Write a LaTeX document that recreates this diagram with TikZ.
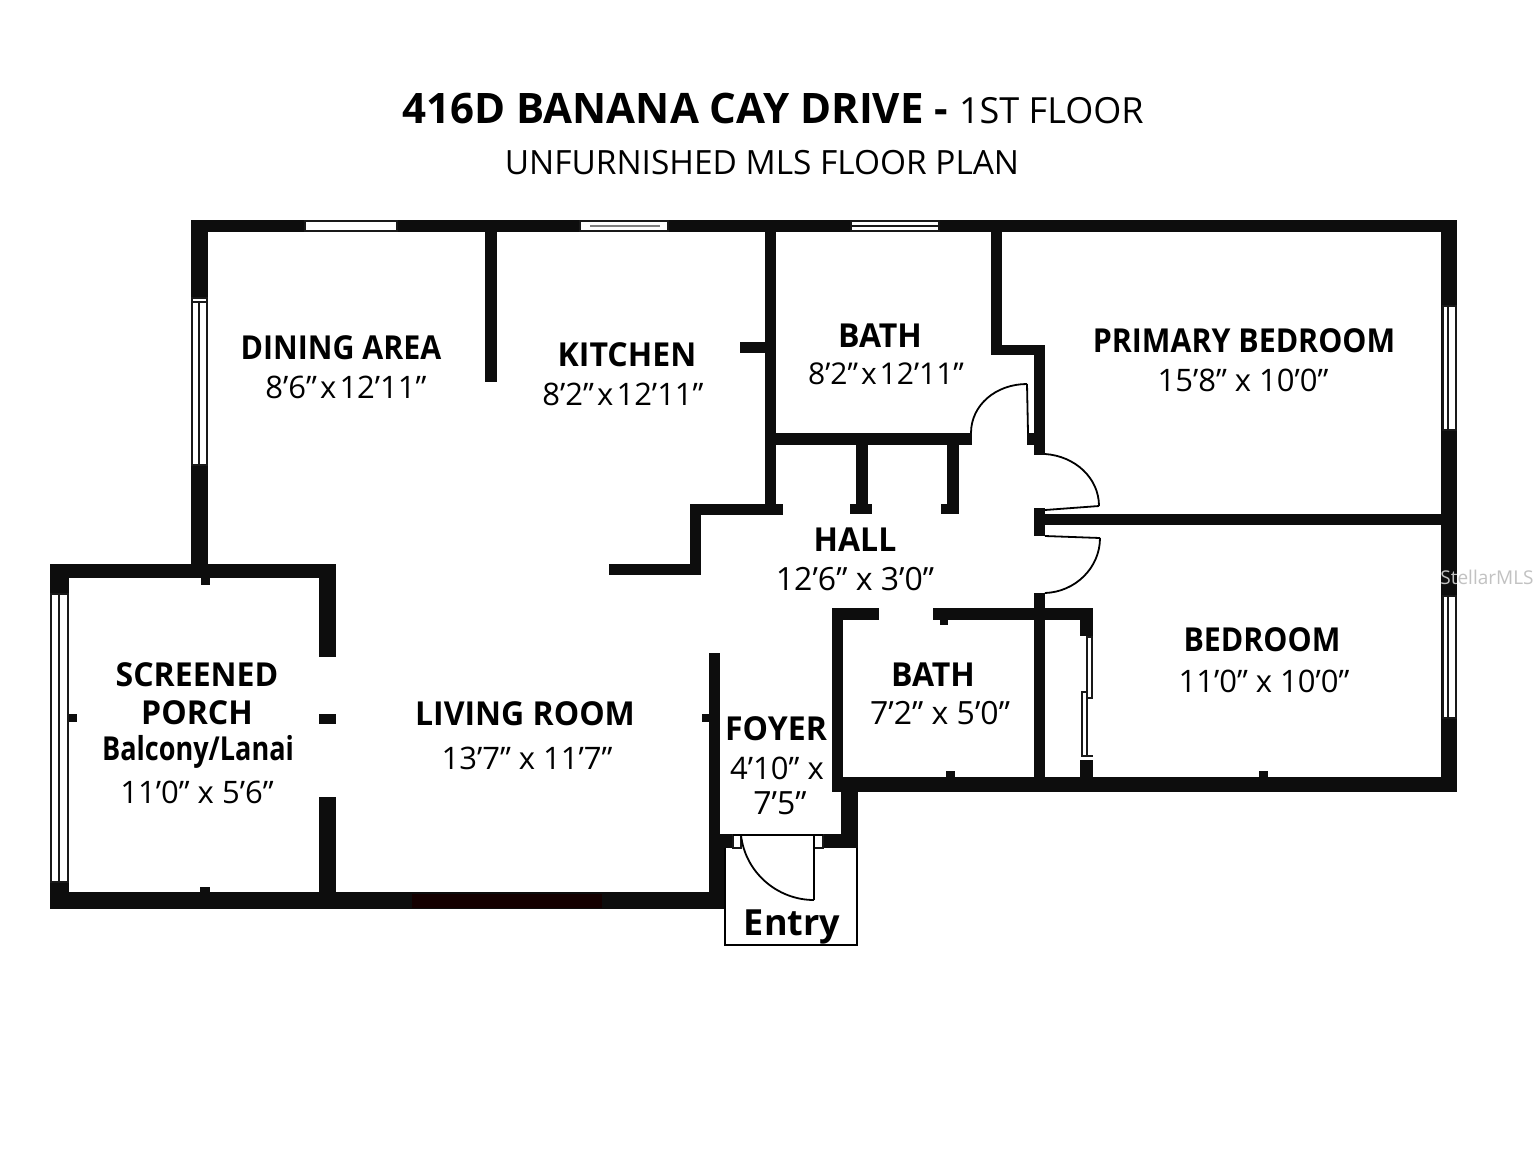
\documentclass[tikz,border=0pt]{standalone}
\usepackage{fontspec}
\setmainfont{Open Sans}
\newfontfamily\roomfont[FakeStretch=0.97]{Open Sans}
\newfontfamily\tightfont[FakeStretch=0.92]{Open Sans}
\newfontfamily\lanaifont[FakeStretch=0.82]{Open Sans}
\newcommand{\by}{\hspace{0.1em}x\hspace{0.1em}}
\tikzset{
    wall/.style={fill=black!95},
    pane/.style={fill=white, draw=black!90, line width=0.6pt},
    midline/.style={draw=black!90, line width=0.8pt},
    leaf/.style={draw=black, line width=0.9pt},
    roomname/.style={font=\fontsize{16.5}{18}\selectfont\roomfont\bfseries, inner sep=0pt},
    tightname/.style={font=\fontsize{16.5}{18}\selectfont\tightfont\bfseries, inner sep=0pt},
    roomsize/.style={font=\fontsize{15.5}{18}\selectfont, inner sep=0pt},
    widesize/.style={font=\fontsize{16}{18}\selectfont, inner sep=0pt}
}
\begin{document}
\begin{tikzpicture}[x=0.5pt, y=-0.5pt]

    \useasboundingbox (0, 0) rectangle (1536, 1152);
    \fill[white] (0, 0) rectangle (1536, 1152);

    % outer walls
    \fill[wall] (191, 220) rectangle (1457, 232);
    \fill[wall] (191, 220) rectangle (208, 570);
    \fill[wall] (1441, 220) rectangle (1457, 792);
    \fill[wall] (50, 564) rectangle (336, 578);
    \fill[wall] (50, 564) rectangle (69, 909);
    \fill[wall] (50, 892) rectangle (725, 909);
    \fill[wall] (319, 564) rectangle (336, 657);
    \fill[wall] (319, 797) rectangle (336, 892);
    \fill[wall] (832, 777) rectangle (1457, 792);

    % inner walls
    \fill[wall] (485, 232) rectangle (497, 382);
    \fill[wall] (765, 232) rectangle (776, 515);
    \fill[wall] (740, 342) rectangle (765, 353);
    \fill[wall] (991, 232) rectangle (1002, 355);
    \fill[wall] (991, 345) rectangle (1045, 355);
    \fill[wall] (1034, 345) rectangle (1045, 455);
    \fill[wall] (1027, 433) rectangle (1034, 445);
    \fill[wall] (765, 433) rectangle (972, 445);
    \fill[wall] (856, 445) rectangle (868, 504);
    \fill[wall] (850, 504) rectangle (872, 514);
    \fill[wall] (947, 445) rectangle (959, 514);
    \fill[wall] (941, 504) rectangle (947, 514);
    \fill[wall] (690, 504) rectangle (783, 515);
    \fill[wall] (690, 504) rectangle (701, 575);
    \fill[wall] (609, 564) rectangle (701, 575);
    \fill[wall] (1034, 508) rectangle (1045, 536);
    \fill[wall] (1045, 514) rectangle (1441, 525);
    \fill[wall] (1034, 593) rectangle (1045, 777);
    \fill[wall] (832, 608) rectangle (879, 620);
    \fill[wall] (933, 608) rectangle (1093, 620);
    \fill[wall] (832, 608) rectangle (843, 792);
    \fill[wall] (1080, 608) rectangle (1093, 636);
    \fill[wall] (1080, 760) rectangle (1093, 777);
    \fill[wall] (709, 653) rectangle (720, 892);
    \fill[wall] (710, 848) rectangle (725, 892);
    \fill[wall] (841, 792) rectangle (858, 848);
    \fill[wall] (709, 834) rectangle (733, 848);
    \fill[wall] (823, 834) rectangle (858, 848);

    % small stubs
    \fill[wall] (201, 578) rectangle (210, 585);
    \fill[wall] (69, 714) rectangle (77, 722);
    \fill[wall] (319, 714) rectangle (336, 724);
    \fill[wall] (200, 887) rectangle (210, 892);
    \fill[wall] (702, 714) rectangle (709, 722);
    \fill[wall] (940, 620) rectangle (948, 625);
    \fill[wall] (946, 771) rectangle (955, 777);
    \fill[wall] (1259, 771) rectangle (1268, 777);

    % sliding door on the south side
    \fill[black!92!red] (412, 894) rectangle (602, 908);

    % windows
    \draw[pane] (305, 221) rectangle (397, 231);
    \draw[pane] (580, 221) rectangle (668, 231);
    \draw[pane] (851, 221) rectangle (939, 231);
    \draw[pane] (192, 298) rectangle (207, 465);
    \draw[pane] (1443, 306) rectangle (1456, 430);
    \draw[pane] (1443, 596) rectangle (1456, 718);
    \draw[pane] (51, 594) rectangle (68, 882);
    \draw[midline] (199, 302) -- (199, 465);
    \draw[midline] (192, 302) -- (207, 302);
    \draw[midline] (1448, 306) -- (1448, 430);
    \draw[midline] (1448, 596) -- (1448, 718);
    \draw[midline] (59, 594) -- (59, 882);
    \draw[midline] (851, 226) -- (939, 226);
    \draw[black!50, line width=0.6pt] (590, 226) -- (660, 226);

    % closet doors
    \draw[pane] (1087, 637) rectangle (1092, 698);
    \draw[pane] (1082, 692) rectangle (1087, 756);
    \draw[midline] (1087, 756) -- (1093, 756);

    % entry
    \draw[line width=0.7pt] (725, 848) -- (725, 945) -- (857, 945) -- (857, 848);
    \draw[pane] (733, 835) rectangle (741, 848);
    \draw[pane] (814, 835) rectangle (823, 848);
    \draw[leaf] (733, 835) -- (823, 835);
    \draw[leaf] (814, 835) -- (814, 900);
    \draw[leaf] (741, 835) .. controls (745, 872) and (777, 900) .. (814, 900);

    % door leaves
    \draw[leaf] (1028, 433) -- (1027, 384);
    \draw[leaf] (1027, 384) .. controls (996, 384) and (971, 405) .. (971, 433);
    \draw[leaf] (1045, 510) -- (1099, 506);
    \draw[leaf] (1045, 454) .. controls (1075, 456) and (1099, 478) .. (1099, 506);
    \draw[leaf] (1045, 536) -- (1100, 538);
    \draw[leaf] (1100, 538) .. controls (1100, 568) and (1075, 592) .. (1045, 593);

    % titles
    \node[font=\fontsize{21}{24}\selectfont, inner sep=0pt] (title) at (773, 108) {\textbf{416D BANANA CAY DRIVE} \textbf{-} {\fontsize{18}{24}\selectfont 1ST FLOOR}};
    \node[font=\fontsize{16.7}{20}\selectfont, inner sep=0pt] (subtitle) at (762, 163) {UNFURNISHED MLS FLOOR PLAN};

    % rooms
    \node[tightname] (dining) at (341, 348) {DINING AREA};
    \node[roomsize] (diningsize) at (346, 387) {8'6"\by{}12'11"};
    \node[roomname] (kitchen) at (627, 355) {KITCHEN};
    \node[roomsize] (kitchensize) at (623, 394) {8'2"\by{}12'11"};
    \node[roomname] (bathup) at (880, 336) {BATH};
    \node[font=\fontsize{15}{18}\selectfont, inner sep=0pt] (bathupsize) at (886, 374) {8'2"\by{}12'11"};
    \node[tightname] (primary) at (1244, 341) {PRIMARY BEDROOM};
    \node[roomsize] (primarysize) at (1243, 380) {15'8" x 10'0"};
    \node[roomname] (hall) at (855, 540) {HALL};
    \node[widesize] (hallsize) at (855, 579) {12'6" x 3'0"};
    \node[tightname] (bedroom) at (1262, 640) {BEDROOM};
    \node[roomsize] (bedroomsize) at (1264, 681) {11'0" x 10'0"};
    \node[roomname] (bathdown) at (933, 675) {BATH};
    \node[widesize] (bathdownsize) at (940, 713) {7'2" x 5'0"};
    \node[roomname] (living) at (525, 714) {LIVING ROOM};
    \node[roomsize] (livingsize) at (527, 758) {13'7" x 11'7"};
    \node[roomname] (foyer) at (776, 729) {FOYER};
    \node[roomsize] (foyersize) at (777, 768) {4'10" x};
    \node[widesize] (foyersizeb) at (780, 803) {7'5"};
    \node[roomname] (porch) at (197, 675) {SCREENED};
    \node[roomname] (porchb) at (197, 713) {PORCH};
    \node[font=\fontsize{16.5}{18}\selectfont\lanaifont\bfseries, inner sep=0pt] (lanai) at (198, 752) {Balcony/Lanai};
    \node[roomsize] (lanaisize) at (197, 792) {11'0" x 5'6"};
    \node[font=\fontsize{18}{20}\selectfont\bfseries, inner sep=0pt] (entry) at (792, 927) {Entry};

    \node[font=\fontsize{9.5}{12}\selectfont, text=black!24, inner sep=0pt] (stamp) at (1487, 577) {StellarMLS};

\end{tikzpicture}
\end{document}
